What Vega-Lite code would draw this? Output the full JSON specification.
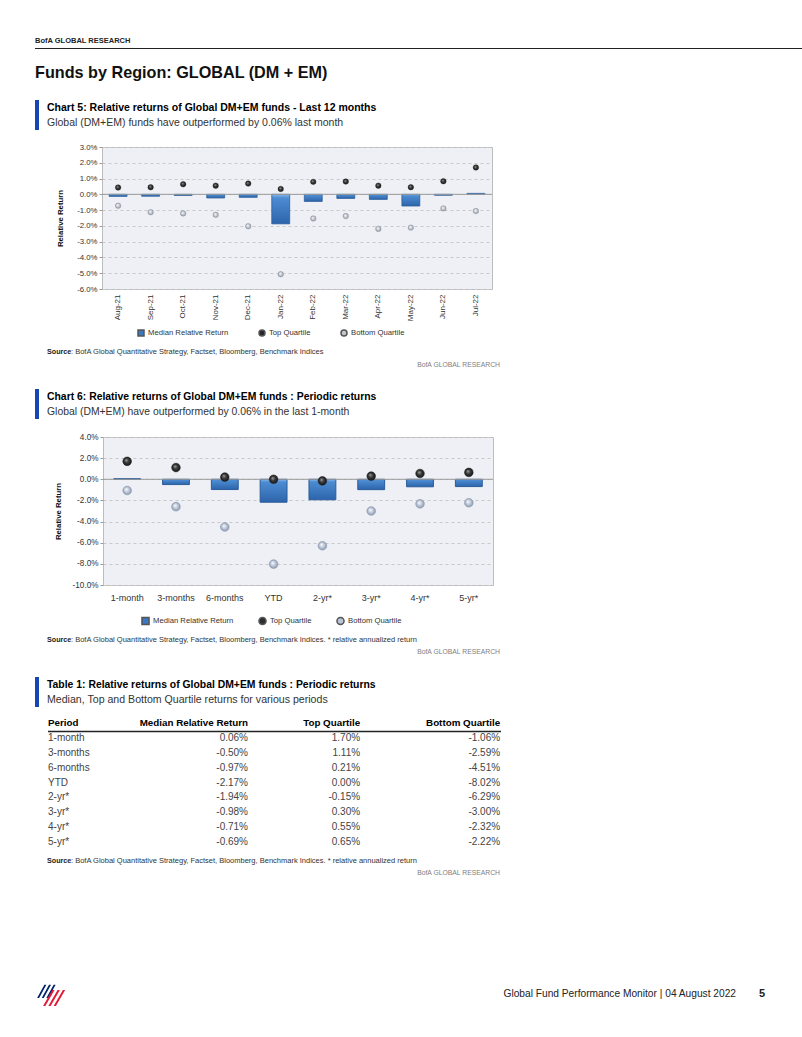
{
  "$schema": "https://vega.github.io/schema/vega-lite/v6.json",
  "background": "white",
  "padding": {"left": 35, "top": 36, "right": 0, "bottom": 0},
  "spacing": 0,
  "resolve": {"scale": {"color": "independent", "shape": "independent"}, "legend": {"color": "independent", "shape": "independent"}},
  "datasets": {
    "monthly": [
      {"Month": "Aug-21", "Median Relative Return": -0.0013, "Top Quartile": 0.0043, "Bottom Quartile": -0.0072},
      {"Month": "Sep-21", "Median Relative Return": -0.0012, "Top Quartile": 0.0045, "Bottom Quartile": -0.0113},
      {"Month": "Oct-21", "Median Relative Return": -0.0007, "Top Quartile": 0.0064, "Bottom Quartile": -0.0121},
      {"Month": "Nov-21", "Median Relative Return": -0.0023, "Top Quartile": 0.0055, "Bottom Quartile": -0.013},
      {"Month": "Dec-21", "Median Relative Return": -0.0019, "Top Quartile": 0.0068, "Bottom Quartile": -0.0202},
      {"Month": "Jan-22", "Median Relative Return": -0.0187, "Top Quartile": 0.0034, "Bottom Quartile": -0.0506},
      {"Month": "Feb-22", "Median Relative Return": -0.0045, "Top Quartile": 0.0079, "Bottom Quartile": -0.0153},
      {"Month": "Mar-22", "Median Relative Return": -0.0026, "Top Quartile": 0.0081, "Bottom Quartile": -0.0138},
      {"Month": "Apr-22", "Median Relative Return": -0.0032, "Top Quartile": 0.0055, "Bottom Quartile": -0.0219},
      {"Month": "May-22", "Median Relative Return": -0.0074, "Top Quartile": 0.0045, "Bottom Quartile": -0.0211},
      {"Month": "Jun-22", "Median Relative Return": -0.0006, "Top Quartile": 0.0083, "Bottom Quartile": -0.0089},
      {"Month": "Jul-22", "Median Relative Return": 0.0006, "Top Quartile": 0.017, "Bottom Quartile": -0.0106}
    ],
    "periodic": [
      {"Period": "1-month", "Median Relative Return": 0.0006, "Top Quartile": 0.017, "Bottom Quartile": -0.0106},
      {"Period": "3-months", "Median Relative Return": -0.005, "Top Quartile": 0.0111, "Bottom Quartile": -0.0259},
      {"Period": "6-months", "Median Relative Return": -0.0097, "Top Quartile": 0.0021, "Bottom Quartile": -0.0451},
      {"Period": "YTD", "Median Relative Return": -0.0217, "Top Quartile": 0.0, "Bottom Quartile": -0.0802},
      {"Period": "2-yr*", "Median Relative Return": -0.0194, "Top Quartile": -0.0015, "Bottom Quartile": -0.0629},
      {"Period": "3-yr*", "Median Relative Return": -0.0098, "Top Quartile": 0.003, "Bottom Quartile": -0.03},
      {"Period": "4-yr*", "Median Relative Return": -0.0071, "Top Quartile": 0.0055, "Bottom Quartile": -0.0232},
      {"Period": "5-yr*", "Median Relative Return": -0.0069, "Top Quartile": 0.0065, "Bottom Quartile": -0.0222}
    ]
  },
  "vconcat": [
    {
      "width": 767, "height": 1,
      "view": {"fill": "#222222", "stroke": null},
      "data": {"values": []}, "mark": "rule", "encoding": {},
      "title": {"text": "BofA GLOBAL RESEARCH", "font": "Liberation Sans", "fontSize": 7.5, "fontWeight": "bold", "color": "#222222", "anchor": "start", "offset": 4}
    },
    {
      "width": 767, "height": 16,
      "data": {"values": []}, "mark": "rule", "encoding": {},
      "title": {"text": "Funds by Region: GLOBAL (DM + EM)", "orient": "bottom", "anchor": "start", "font": "Liberation Sans", "fontSize": 16.2, "fontWeight": "bold", "color": "#111111", "offset": 0}
    },
    {"width": 1, "height": 18, "data": {"values": []}, "mark": "rule", "encoding": {}},
    {
      "spacing": 8,
      "hconcat": [
        {"width": 4, "height": 30, "view": {"fill": "#1546b4", "stroke": null}, "data": {"values": []}, "mark": "rule", "encoding": {}},
        {
          "width": 440, "height": 30,
          "data": {"values": [{}]},
          "layer": [
            {"mark": {"type": "text", "text": "Chart 5: Relative returns of Global DM+EM funds - Last 12 months", "fontSize": 10.5, "fontWeight": "bold", "align": "left", "baseline": "top", "dy": 3, "color": "#000000"},
             "encoding": {"x": {"datum": 0, "type": "quantitative", "scale": {"domain": [0, 1], "nice": false}, "axis": null}, "y": {"datum": 1, "type": "quantitative", "scale": {"domain": [0, 1], "nice": false}, "axis": null}}},
            {"mark": {"type": "text", "text": "Global (DM+EM) funds have outperformed by 0.06% last month", "fontSize": 10.5, "align": "left", "baseline": "bottom", "dy": -2, "color": "#333333"},
             "encoding": {"x": {"datum": 0, "type": "quantitative"}, "y": {"datum": 0, "type": "quantitative"}}}
          ]
        }
      ]
    },
    {"width": 1, "height": 12, "data": {"values": []}, "mark": "rule", "encoding": {}},
    {
      "spacing": 0,
      "resolve": {"scale": {"color": "independent", "shape": "independent"}, "legend": {"color": "independent", "shape": "independent"}},
      "hconcat": [
        {"width": 21, "height": 1, "data": {"values": []}, "mark": "rule", "encoding": {}},
        {
          "width": 390, "height": 142,
          "view": {"fill": "#eef0f5", "stroke": "#bdbdbd"},
          "data": {"name": "monthly"},
          "layer": [
            {
              "transform": [{"fold": ["Median Relative Return", "Top Quartile", "Bottom Quartile"], "as": ["key", "value"]}, {"filter": "datum.key === 'Median Relative Return'"}],
              "mark": {"type": "bar", "stroke": "#2b5d9b", "strokeWidth": 0.8,
                       "fill": {"gradient": "linear", "x1": 0, "y1": 0, "x2": 0, "y2": 1, "stops": [{"offset": 0, "color": "#8dbbec"}, {"offset": 0.12, "color": "#4d8cd2"}, {"offset": 1, "color": "#2c64ab"}]}},
              "encoding": {
                "x": {"field": "Month", "type": "ordinal", "sort": null, "title": null, "scale": {"paddingInner": 0.45, "paddingOuter": 0.22}, "axis": {"labelAngle": -90, "labelFontSize": 8, "ticks": false, "domain": false, "labelPadding": 5}},
                "y": {"field": "value", "type": "quantitative", "scale": {"domain": [-0.06, 0.03], "nice": false, "zero": false},
                      "axis": {"title": "Relative Return", "format": ".1%", "values": [-0.06, -0.05, -0.04, -0.03, -0.02, -0.01, 0, 0.01, 0.02, 0.03], "labelOverlap": false, "grid": true, "gridDash": [3, 3], "gridColor": "#c9c9c9", "domain": false, "ticks": true, "tickSize": 3, "tickColor": "#999999", "labelFontSize": 7.8, "titleFontSize": 7.8, "titleFontWeight": "bold", "titlePadding": 12}}
              }
            },
            {
              "data": {"values": [{}]},
              "mark": {"type": "rule", "color": "#9a9a9a", "strokeWidth": 1},
              "encoding": {"y": {"datum": 0, "type": "quantitative",
                      "axis": {"title": "Relative Return", "format": ".1%", "values": [-0.06, -0.05, -0.04, -0.03, -0.02, -0.01, 0, 0.01, 0.02, 0.03], "labelOverlap": false, "grid": true, "gridDash": [3, 3], "gridColor": "#c9c9c9", "domain": false, "ticks": true, "tickSize": 3, "tickColor": "#999999", "labelFontSize": 7.8, "titleFontSize": 7.8, "titleFontWeight": "bold", "titlePadding": 12}}}
            },
            {
              "transform": [{"fold": ["Top Quartile"], "as": ["key", "value"]}],
              "mark": {"type": "point", "filled": true, "size": 30, "stroke": "#1a1a1a", "strokeWidth": 0.4, "opacity": 1,
                       "fill": {"gradient": "radial", "x1": 0.38, "y1": 0.35, "r1": 0, "x2": 0.5, "y2": 0.5, "r2": 0.55, "stops": [{"offset": 0, "color": "#a8a8a8"}, {"offset": 0.45, "color": "#3a3a3a"}, {"offset": 1, "color": "#141414"}]}},
              "encoding": {
                "x": {"field": "Month", "type": "ordinal", "sort": null, "title": null, "axis": {"labelAngle": -90, "labelFontSize": 8, "ticks": false, "domain": false, "labelPadding": 5}},
                "y": {"field": "value", "type": "quantitative",
                      "axis": {"title": "Relative Return", "format": ".1%", "values": [-0.06, -0.05, -0.04, -0.03, -0.02, -0.01, 0, 0.01, 0.02, 0.03], "labelOverlap": false, "grid": true, "gridDash": [3, 3], "gridColor": "#c9c9c9", "domain": false, "ticks": true, "tickSize": 3, "tickColor": "#999999", "labelFontSize": 7.8, "titleFontSize": 7.8, "titleFontWeight": "bold", "titlePadding": 12}}
              }
            },
            {
              "transform": [{"fold": ["Bottom Quartile"], "as": ["key", "value"]}],
              "mark": {"type": "point", "filled": true, "size": 30, "stroke": "#8a909a", "strokeWidth": 0.5, "opacity": 1,
                       "fill": {"gradient": "radial", "x1": 0.38, "y1": 0.35, "r1": 0, "x2": 0.5, "y2": 0.5, "r2": 0.55, "stops": [{"offset": 0, "color": "#ffffff"}, {"offset": 0.5, "color": "#c9cdd5"}, {"offset": 1, "color": "#8f96a2"}]}},
              "encoding": {
                "x": {"field": "Month", "type": "ordinal", "sort": null, "title": null, "axis": {"labelAngle": -90, "labelFontSize": 8, "ticks": false, "domain": false, "labelPadding": 5}},
                "y": {"field": "value", "type": "quantitative",
                      "axis": {"title": "Relative Return", "format": ".1%", "values": [-0.06, -0.05, -0.04, -0.03, -0.02, -0.01, 0, 0.01, 0.02, 0.03], "labelOverlap": false, "grid": true, "gridDash": [3, 3], "gridColor": "#c9c9c9", "domain": false, "ticks": true, "tickSize": 3, "tickColor": "#999999", "labelFontSize": 7.8, "titleFontSize": 7.8, "titleFontWeight": "bold", "titlePadding": 12}}
              }
            },
            {
              "transform": [{"fold": ["Median Relative Return", "Top Quartile", "Bottom Quartile"], "as": ["key", "value"]}],
              "mark": {"type": "point", "filled": true, "size": 0, "stroke": "#555555", "strokeWidth": 0.5, "opacity": 1},
              "encoding": {
                "color": {"field": "key", "type": "nominal", "scale": {"domain": ["Median Relative Return", "Top Quartile", "Bottom Quartile"], "range": ["#3b78c2", "#262626", "#c3c7cf"]},
                          "legend": {"title": null, "orient": "none", "legendX": 35, "legendY": 182, "direction": "horizontal", "symbolSize": 36, "columnPadding": 27, "labelFontSize": 7.7, "labelOffset": 3, "symbolOpacity": 1}},
                "shape": {"field": "key", "type": "nominal", "scale": {"domain": ["Median Relative Return", "Top Quartile", "Bottom Quartile"], "range": ["square", "circle", "circle"]},
                          "legend": {"title": null, "orient": "none", "legendX": 35, "legendY": 182, "direction": "horizontal", "symbolSize": 36, "columnPadding": 27, "labelFontSize": 7.7, "labelOffset": 3, "symbolOpacity": 1}}
              }
            }
          ]
        }
      ]
    },
    {"width": 1, "height": 8, "data": {"values": []}, "mark": "rule", "encoding": {}},
    {
      "spacing": 0,
      "hconcat": [
        {"width": 12, "height": 1, "data": {"values": []}, "mark": "rule", "encoding": {}},
        {
          "width": 453, "height": 13,
          "data": {"values": [{}]},
          "layer": [
            {"mark": {"type": "text", "text": "Source", "fontWeight": "bold", "fontSize": 7.2, "align": "left", "baseline": "middle", "color": "#222222"},
             "encoding": {"x": {"datum": 0, "type": "quantitative", "scale": {"domain": [0, 1], "nice": false}, "axis": null}, "y": {"datum": 1, "type": "quantitative", "scale": {"domain": [0, 1], "nice": false}, "axis": null}}},
            {"mark": {"type": "text", "text": ":  BofA Global Quantitative Strategy, Factset, Bloomberg, Benchmark Indices", "fontSize": 7.5, "align": "left", "baseline": "middle", "dx": 24, "color": "#333333"},
             "encoding": {"x": {"datum": 0, "type": "quantitative"}, "y": {"datum": 1, "type": "quantitative"}}},
            {"mark": {"type": "text", "text": "BofA GLOBAL RESEARCH", "fontSize": 6.8, "align": "right", "baseline": "middle", "color": "#808080"},
             "encoding": {"x": {"datum": 1, "type": "quantitative"}, "y": {"datum": 0, "type": "quantitative"}}}
          ]
        }
      ]
    },
    {"width": 1, "height": 20, "data": {"values": []}, "mark": "rule", "encoding": {}},
    {
      "spacing": 8,
      "hconcat": [
        {"width": 4, "height": 30, "view": {"fill": "#1546b4", "stroke": null}, "data": {"values": []}, "mark": "rule", "encoding": {}},
        {
          "width": 440, "height": 30,
          "data": {"values": [{}]},
          "layer": [
            {"mark": {"type": "text", "text": "Chart 6: Relative returns of Global DM+EM funds : Periodic returns", "fontSize": 10.4, "fontWeight": "bold", "align": "left", "baseline": "top", "dy": 3, "color": "#000000"},
             "encoding": {"x": {"datum": 0, "type": "quantitative", "scale": {"domain": [0, 1], "nice": false}, "axis": null}, "y": {"datum": 1, "type": "quantitative", "scale": {"domain": [0, 1], "nice": false}, "axis": null}}},
            {"mark": {"type": "text", "text": "Global (DM+EM) have outperformed by 0.06% in the last 1-month", "fontSize": 10.4, "align": "left", "baseline": "bottom", "dy": -2, "color": "#333333"},
             "encoding": {"x": {"datum": 0, "type": "quantitative"}, "y": {"datum": 0, "type": "quantitative"}}}
          ]
        }
      ]
    },
    {"width": 1, "height": 12, "data": {"values": []}, "mark": "rule", "encoding": {}},
    {
      "spacing": 0,
      "resolve": {"scale": {"color": "independent", "shape": "independent"}, "legend": {"color": "independent", "shape": "independent"}},
      "hconcat": [
        {"width": 18, "height": 1, "data": {"values": []}, "mark": "rule", "encoding": {}},
        {
          "width": 390, "height": 148,
          "view": {"fill": "#eef0f5", "stroke": "#bdbdbd"},
          "data": {"name": "periodic"},
          "layer": [
            {
              "transform": [{"fold": ["Median Relative Return", "Top Quartile", "Bottom Quartile"], "as": ["key", "value"]}, {"filter": "datum.key === 'Median Relative Return'"}],
              "mark": {"type": "bar", "stroke": "#2b5d9b", "strokeWidth": 1,
                       "fill": {"gradient": "linear", "x1": 0, "y1": 0, "x2": 0, "y2": 1, "stops": [{"offset": 0, "color": "#8dbbec"}, {"offset": 0.12, "color": "#4d8cd2"}, {"offset": 1, "color": "#2c64ab"}]}},
              "encoding": {
                "x": {"field": "Period", "type": "ordinal", "sort": null, "title": null, "scale": {"paddingInner": 0.45, "paddingOuter": 0.22}, "axis": {"labelAngle": 0, "labelFontSize": 9, "ticks": false, "domain": false, "labelPadding": 8}},
                "y": {"field": "value", "type": "quantitative", "scale": {"domain": [-0.1, 0.04], "nice": false, "zero": false},
                      "axis": {"title": "Relative Return", "format": ".1%", "values": [-0.1, -0.08, -0.06, -0.04, -0.02, 0, 0.02, 0.04], "labelOverlap": false, "grid": true, "gridDash": [3, 3], "gridColor": "#c9c9c9", "domain": false, "ticks": true, "tickSize": 3, "tickColor": "#999999", "labelFontSize": 8.2, "titleFontSize": 7.8, "titleFontWeight": "bold", "titlePadding": 10}}
              }
            },
            {
              "data": {"values": [{}]},
              "mark": {"type": "rule", "color": "#9a9a9a", "strokeWidth": 1},
              "encoding": {"y": {"datum": 0, "type": "quantitative",
                      "axis": {"title": "Relative Return", "format": ".1%", "values": [-0.1, -0.08, -0.06, -0.04, -0.02, 0, 0.02, 0.04], "labelOverlap": false, "grid": true, "gridDash": [3, 3], "gridColor": "#c9c9c9", "domain": false, "ticks": true, "tickSize": 3, "tickColor": "#999999", "labelFontSize": 8.2, "titleFontSize": 7.8, "titleFontWeight": "bold", "titlePadding": 10}}}
            },
            {
              "transform": [{"fold": ["Top Quartile"], "as": ["key", "value"]}],
              "mark": {"type": "point", "filled": true, "size": 75, "stroke": "#1a1a1a", "strokeWidth": 0.5, "opacity": 1,
                       "fill": {"gradient": "radial", "x1": 0.38, "y1": 0.35, "r1": 0, "x2": 0.5, "y2": 0.5, "r2": 0.55, "stops": [{"offset": 0, "color": "#a8a8a8"}, {"offset": 0.45, "color": "#3a3a3a"}, {"offset": 1, "color": "#141414"}]}},
              "encoding": {
                "x": {"field": "Period", "type": "ordinal", "sort": null, "title": null, "axis": {"labelAngle": 0, "labelFontSize": 9, "ticks": false, "domain": false, "labelPadding": 8}},
                "y": {"field": "value", "type": "quantitative",
                      "axis": {"title": "Relative Return", "format": ".1%", "values": [-0.1, -0.08, -0.06, -0.04, -0.02, 0, 0.02, 0.04], "labelOverlap": false, "grid": true, "gridDash": [3, 3], "gridColor": "#c9c9c9", "domain": false, "ticks": true, "tickSize": 3, "tickColor": "#999999", "labelFontSize": 8.2, "titleFontSize": 7.8, "titleFontWeight": "bold", "titlePadding": 10}}
              }
            },
            {
              "transform": [{"fold": ["Bottom Quartile"], "as": ["key", "value"]}],
              "mark": {"type": "point", "filled": true, "size": 75, "stroke": "#8a96aa", "strokeWidth": 0.6, "opacity": 1,
                       "fill": {"gradient": "radial", "x1": 0.38, "y1": 0.35, "r1": 0, "x2": 0.5, "y2": 0.5, "r2": 0.55, "stops": [{"offset": 0, "color": "#ffffff"}, {"offset": 0.5, "color": "#bfc9da"}, {"offset": 1, "color": "#8592a8"}]}},
              "encoding": {
                "x": {"field": "Period", "type": "ordinal", "sort": null, "title": null, "axis": {"labelAngle": 0, "labelFontSize": 9, "ticks": false, "domain": false, "labelPadding": 8}},
                "y": {"field": "value", "type": "quantitative",
                      "axis": {"title": "Relative Return", "format": ".1%", "values": [-0.1, -0.08, -0.06, -0.04, -0.02, 0, 0.02, 0.04], "labelOverlap": false, "grid": true, "gridDash": [3, 3], "gridColor": "#c9c9c9", "domain": false, "ticks": true, "tickSize": 3, "tickColor": "#999999", "labelFontSize": 8.2, "titleFontSize": 7.8, "titleFontWeight": "bold", "titlePadding": 10}}
              }
            },
            {
              "transform": [{"fold": ["Median Relative Return", "Top Quartile", "Bottom Quartile"], "as": ["key", "value"]}],
              "mark": {"type": "point", "filled": true, "size": 0, "stroke": "#555555", "strokeWidth": 0.6, "opacity": 1},
              "encoding": {
                "color": {"field": "key", "type": "nominal", "scale": {"domain": ["Median Relative Return", "Top Quartile", "Bottom Quartile"], "range": ["#3b78c2", "#2e2e2e", "#b9c4d6"]},
                          "legend": {"title": null, "orient": "none", "legendX": 38, "legendY": 179, "direction": "horizontal", "symbolSize": 50, "columnPadding": 21, "labelFontSize": 7.7, "labelOffset": 3, "symbolOpacity": 1}},
                "shape": {"field": "key", "type": "nominal", "scale": {"domain": ["Median Relative Return", "Top Quartile", "Bottom Quartile"], "range": ["square", "circle", "circle"]},
                          "legend": {"title": null, "orient": "none", "legendX": 38, "legendY": 179, "direction": "horizontal", "symbolSize": 50, "columnPadding": 21, "labelFontSize": 7.7, "labelOffset": 3, "symbolOpacity": 1}}
              }
            }
          ]
        }
      ]
    },
    {"width": 1, "height": 7, "data": {"values": []}, "mark": "rule", "encoding": {}},
    {
      "spacing": 0,
      "hconcat": [
        {"width": 12, "height": 1, "data": {"values": []}, "mark": "rule", "encoding": {}},
        {
          "width": 453, "height": 12,
          "data": {"values": [{}]},
          "layer": [
            {"mark": {"type": "text", "text": "Source", "fontWeight": "bold", "fontSize": 7.2, "align": "left", "baseline": "middle", "color": "#222222"},
             "encoding": {"x": {"datum": 0, "type": "quantitative", "scale": {"domain": [0, 1], "nice": false}, "axis": null}, "y": {"datum": 1, "type": "quantitative", "scale": {"domain": [0, 1], "nice": false}, "axis": null}}},
            {"mark": {"type": "text", "text": ":  BofA Global Quantitative Strategy, Factset, Bloomberg, Benchmark Indices.   * relative annualized return", "fontSize": 7.5, "align": "left", "baseline": "middle", "dx": 24, "color": "#333333"},
             "encoding": {"x": {"datum": 0, "type": "quantitative"}, "y": {"datum": 1, "type": "quantitative"}}},
            {"mark": {"type": "text", "text": "BofA GLOBAL RESEARCH", "fontSize": 6.8, "align": "right", "baseline": "middle", "color": "#808080"},
             "encoding": {"x": {"datum": 1, "type": "quantitative"}, "y": {"datum": 0, "type": "quantitative"}}}
          ]
        }
      ]
    },
    {"width": 1, "height": 21, "data": {"values": []}, "mark": "rule", "encoding": {}},
    {
      "spacing": 8,
      "hconcat": [
        {"width": 4, "height": 30, "view": {"fill": "#1546b4", "stroke": null}, "data": {"values": []}, "mark": "rule", "encoding": {}},
        {
          "width": 440, "height": 30,
          "data": {"values": [{}]},
          "layer": [
            {"mark": {"type": "text", "text": "Table 1: Relative returns of Global DM+EM funds : Periodic returns", "fontSize": 10.4, "fontWeight": "bold", "align": "left", "baseline": "top", "dy": 3, "color": "#000000"},
             "encoding": {"x": {"datum": 0, "type": "quantitative", "scale": {"domain": [0, 1], "nice": false}, "axis": null}, "y": {"datum": 1, "type": "quantitative", "scale": {"domain": [0, 1], "nice": false}, "axis": null}}},
            {"mark": {"type": "text", "text": "Median, Top and Bottom Quartile returns for various periods", "fontSize": 10.6, "align": "left", "baseline": "bottom", "dy": -2, "color": "#333333"},
             "encoding": {"x": {"datum": 0, "type": "quantitative"}, "y": {"datum": 0, "type": "quantitative"}}}
          ]
        }
      ]
    },
    {"width": 1, "height": 9, "data": {"values": []}, "mark": "rule", "encoding": {}},
    {
      "spacing": 0,
      "hconcat": [
        {"width": 12, "height": 1, "data": {"values": []}, "mark": "rule", "encoding": {}},
        {
          "width": 453, "height": 133,
          "data": {"name": "periodic"},
          "encoding": {
            "y": {"field": "Period", "type": "ordinal", "scale": {"type": "point", "domain": ["Period", "1-month", "3-months", "6-months", "YTD", "2-yr*", "3-yr*", "4-yr*", "5-yr*"], "padding": 0.5}, "axis": null}
          },
          "layer": [
            {"mark": {"type": "text", "align": "left", "baseline": "middle", "fontSize": 10, "color": "#444444"},
             "encoding": {"x": {"datum": 0, "type": "quantitative", "scale": {"domain": [0, 1], "nice": false, "zero": false}, "axis": null}, "text": {"field": "Period"}}},
            {"mark": {"type": "text", "align": "right", "baseline": "middle", "fontSize": 10, "color": "#444444"},
             "encoding": {"x": {"datum": 0.4415, "type": "quantitative"}, "text": {"field": "Median Relative Return", "type": "quantitative", "format": ".2%"}}},
            {"mark": {"type": "text", "align": "right", "baseline": "middle", "fontSize": 10, "color": "#444444"},
             "encoding": {"x": {"datum": 0.689, "type": "quantitative"}, "text": {"field": "Top Quartile", "type": "quantitative", "format": ".2%"}}},
            {"mark": {"type": "text", "align": "right", "baseline": "middle", "fontSize": 10, "color": "#444444"},
             "encoding": {"x": {"datum": 0.998, "type": "quantitative"}, "text": {"field": "Bottom Quartile", "type": "quantitative", "format": ".2%"}}},
            {"data": {"values": [{}]},
             "mark": {"type": "text", "text": "Period", "align": "left", "baseline": "middle", "fontSize": 9.8, "fontWeight": "bold", "color": "#000000"},
             "encoding": {"x": {"datum": 0, "type": "quantitative"}, "y": {"datum": "Period", "type": "ordinal"}}},
            {"data": {"values": [{}]},
             "mark": {"type": "text", "text": "Median Relative Return", "align": "right", "baseline": "middle", "fontSize": 9.8, "fontWeight": "bold", "color": "#000000"},
             "encoding": {"x": {"datum": 0.4415, "type": "quantitative"}, "y": {"datum": "Period", "type": "ordinal"}}},
            {"data": {"values": [{}]},
             "mark": {"type": "text", "text": "Top Quartile", "align": "right", "baseline": "middle", "fontSize": 9.8, "fontWeight": "bold", "color": "#000000"},
             "encoding": {"x": {"datum": 0.689, "type": "quantitative"}, "y": {"datum": "Period", "type": "ordinal"}}},
            {"data": {"values": [{}]},
             "mark": {"type": "text", "text": "Bottom Quartile", "align": "right", "baseline": "middle", "fontSize": 9.8, "fontWeight": "bold", "color": "#000000"},
             "encoding": {"x": {"datum": 0.998, "type": "quantitative"}, "y": {"datum": "Period", "type": "ordinal"}}},
            {"data": {"values": [{}]},
             "mark": {"type": "rule", "color": "#222222", "strokeWidth": 1.5, "yOffset": 8},
             "encoding": {"x": {"datum": 0, "type": "quantitative"}, "x2": {"datum": 1}, "y": {"datum": "Period", "type": "ordinal"}}}
          ]
        }
      ]
    },
    {"width": 1, "height": 8, "data": {"values": []}, "mark": "rule", "encoding": {}},
    {
      "spacing": 0,
      "hconcat": [
        {"width": 12, "height": 1, "data": {"values": []}, "mark": "rule", "encoding": {}},
        {
          "width": 453, "height": 12,
          "data": {"values": [{}]},
          "layer": [
            {"mark": {"type": "text", "text": "Source", "fontWeight": "bold", "fontSize": 7.2, "align": "left", "baseline": "middle", "color": "#222222"},
             "encoding": {"x": {"datum": 0, "type": "quantitative", "scale": {"domain": [0, 1], "nice": false}, "axis": null}, "y": {"datum": 1, "type": "quantitative", "scale": {"domain": [0, 1], "nice": false}, "axis": null}}},
            {"mark": {"type": "text", "text": ":  BofA Global Quantitative Strategy, Factset, Bloomberg, Benchmark Indices.   * relative annualized return", "fontSize": 7.5, "align": "left", "baseline": "middle", "dx": 24, "color": "#333333"},
             "encoding": {"x": {"datum": 0, "type": "quantitative"}, "y": {"datum": 1, "type": "quantitative"}}},
            {"mark": {"type": "text", "text": "BofA GLOBAL RESEARCH", "fontSize": 6.8, "align": "right", "baseline": "middle", "color": "#808080"},
             "encoding": {"x": {"datum": 1, "type": "quantitative"}, "y": {"datum": 0, "type": "quantitative"}}}
          ]
        }
      ]
    },
    {"width": 1, "height": 105, "data": {"values": []}, "mark": "rule", "encoding": {}},
    {
      "width": 767, "height": 24,
      "data": {"values": [{}]},
      "layer": [
        {"mark": {"type": "point", "filled": true, "size": 700, "color": "#012169", "strokeWidth": 0, "opacity": 1,
                  "shape": "M -1 0.3 L -0.45 -0.7 L -0.3 -0.7 L -0.85 0.3 Z M -0.65 0.3 L -0.1 -0.7 L 0.05 -0.7 L -0.5 0.3 Z M -0.3 0.3 L 0.25 -0.7 L 0.4 -0.7 L -0.15 0.3 Z"},
         "encoding": {"x": {"datum": 0.02, "type": "quantitative", "scale": {"domain": [0, 1], "nice": false}, "axis": null}, "y": {"datum": 0.5, "type": "quantitative", "scale": {"domain": [0, 1], "nice": false}, "axis": null}}},
        {"mark": {"type": "point", "filled": true, "size": 700, "color": "#e31837", "strokeWidth": 0, "opacity": 1,
                  "shape": "M -0.55 0.9 L 0.15 -0.3 L 0.32 -0.3 L -0.38 0.9 Z M -0.15 0.9 L 0.55 -0.3 L 0.72 -0.3 L 0.02 0.9 Z M 0.25 0.9 L 0.95 -0.3 L 1.12 -0.3 L 0.42 0.9 Z"},
         "encoding": {"x": {"datum": 0.02, "type": "quantitative"}, "y": {"datum": 0.5, "type": "quantitative"}}},
        {"mark": {"type": "text", "text": "Global Fund Performance Monitor | 04 August 2022", "fontSize": 10.2, "align": "right", "baseline": "middle", "color": "#222222"},
         "encoding": {"x": {"datum": 0.914, "type": "quantitative"}, "y": {"datum": 0.5, "type": "quantitative"}}},
        {"mark": {"type": "text", "text": "5", "fontSize": 11, "fontWeight": "bold", "align": "center", "baseline": "middle", "color": "#222222"},
         "encoding": {"x": {"datum": 0.948, "type": "quantitative"}, "y": {"datum": 0.5, "type": "quantitative"}}}
      ]
    }
  ],
  "config": {
    "font": "Liberation Sans, sans-serif",
    "view": {"stroke": null},
    "locale": {"number": {"decimal": ".", "thousands": ",", "grouping": [3], "currency": ["$", ""], "minus": "-"}},
    "axis": {"labelFont": "Liberation Sans, sans-serif", "titleFont": "Liberation Sans, sans-serif", "labelColor": "#333333", "titleColor": "#111111"},
    "legend": {"direction": "horizontal", "labelFont": "Liberation Sans, sans-serif", "labelFontSize": 7.7, "labelColor": "#333333", "padding": 0},
    "title": {"anchor": "start", "font": "Liberation Sans, sans-serif"},
    "text": {"font": "Liberation Sans, sans-serif"}
  }
}
